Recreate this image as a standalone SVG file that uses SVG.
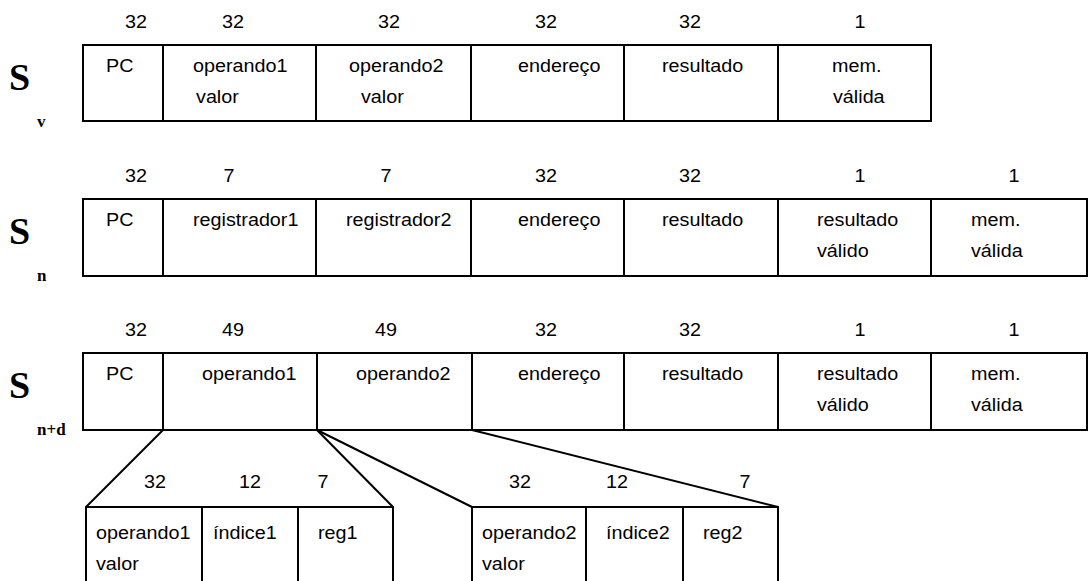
<svg xmlns="http://www.w3.org/2000/svg" width="1089" height="581" viewBox="0 0 1089 581">
  <style>
    .bg { fill: #ffffff; }
    .cell { fill: none; stroke: #000; stroke-width: 2; }
    .lnk { fill: none; stroke: #000; stroke-width: 2; }
    .t { font-family: "Liberation Sans", Arial, sans-serif; font-size: 17.5px; fill: #000;
         transform-box: fill-box; transform-origin: left center; transform: scaleX(1.13); }
    .w { font-family: "Liberation Sans", Arial, sans-serif; font-size: 17.5px; fill: #000; text-anchor: middle;
         transform-box: fill-box; transform-origin: center; transform: scaleX(1.13); }
    .s { font-family: "Liberation Serif", "Times New Roman", serif; font-weight: bold; font-size: 38px; fill: #000; }
    .sub { font-family: "Liberation Serif", "Times New Roman", serif; font-weight: bold; font-size: 17px; fill: #000; }
  </style>
  <rect class="bg" x="0" y="0" width="1089" height="581"/>

  <!-- state Sv -->
  <g id="state-sv">
    <text class="s" x="9" y="90">S</text>
    <text class="sub" x="37" y="127">v</text>
    <rect class="cell" x="83" y="45" width="848" height="76"/>
    <path class="cell" d="M163 45V121M316 45V121M471 45V121M624 45V121M778 45V121"/>
    <text class="w" x="136" y="28">32</text>
    <text class="w" x="233" y="28">32</text>
    <text class="w" x="389" y="28">32</text>
    <text class="w" x="546" y="28">32</text>
    <text class="w" x="690" y="28">32</text>
    <text class="w" x="860" y="28">1</text>
    <text class="t" x="106" y="72">PC</text>
    <text class="t" x="193" y="72">operando1</text>
    <text class="t" x="196" y="103">valor</text>
    <text class="t" x="349" y="72">operando2</text>
    <text class="t" x="361" y="103">valor</text>
    <text class="t" x="518" y="72">endereço</text>
    <text class="t" x="662" y="72">resultado</text>
    <text class="t" x="832" y="72">mem.</text>
    <text class="t" x="833" y="103">válida</text>
  </g>

  <!-- state Sn -->
  <g id="state-sn">
    <text class="s" x="9" y="244">S</text>
    <text class="sub" x="37" y="281">n</text>
    <rect class="cell" x="83" y="199" width="1004" height="77"/>
    <path class="cell" d="M163 199V276M316 199V276M471 199V276M624 199V276M778 199V276M931 199V276"/>
    <text class="w" x="136" y="182">32</text>
    <text class="w" x="229" y="182">7</text>
    <text class="w" x="386" y="182">7</text>
    <text class="w" x="546" y="182">32</text>
    <text class="w" x="690" y="182">32</text>
    <text class="w" x="860" y="182">1</text>
    <text class="w" x="1014" y="182">1</text>
    <text class="t" x="106" y="226">PC</text>
    <text class="t" x="193" y="226">registrador1</text>
    <text class="t" x="346" y="226">registrador2</text>
    <text class="t" x="518" y="226">endereço</text>
    <text class="t" x="662" y="226">resultado</text>
    <text class="t" x="817" y="226">resultado</text>
    <text class="t" x="817" y="257">válido</text>
    <text class="t" x="971" y="226">mem.</text>
    <text class="t" x="971" y="257">válida</text>
  </g>

  <!-- state Sn+d -->
  <g id="state-snd">
    <text class="s" x="9" y="398">S</text>
    <text class="sub" x="37" y="435">n+d</text>
    <rect class="cell" x="83" y="353" width="1004" height="77"/>
    <path class="cell" d="M163 353V430M317 353V430M472 353V430M624 353V430M778 353V430M931 353V430"/>
    <text class="w" x="136" y="336">32</text>
    <text class="w" x="233" y="336">49</text>
    <text class="w" x="386" y="336">49</text>
    <text class="w" x="546" y="336">32</text>
    <text class="w" x="690" y="336">32</text>
    <text class="w" x="860" y="336">1</text>
    <text class="w" x="1014" y="336">1</text>
    <text class="t" x="106" y="380">PC</text>
    <text class="t" x="202" y="380">operando1</text>
    <text class="t" x="356" y="380">operando2</text>
    <text class="t" x="518" y="380">endereço</text>
    <text class="t" x="662" y="380">resultado</text>
    <text class="t" x="817" y="380">resultado</text>
    <text class="t" x="817" y="411">válido</text>
    <text class="t" x="971" y="380">mem.</text>
    <text class="t" x="971" y="411">válida</text>
  </g>

  <!-- expansion of operando1 -->
  <g id="operando1-fields">
    <path class="cell" d="M86 590V507H393V590M202 507V590M298 507V590"/>
    <text class="w" x="155" y="488">32</text>
    <text class="w" x="250" y="488">12</text>
    <text class="w" x="323" y="488">7</text>
    <text class="t" x="96" y="539">operando1</text>
    <text class="t" x="96" y="570">valor</text>
    <text class="t" x="213" y="539">índice1</text>
    <text class="t" x="318" y="539">reg1</text>
  </g>

  <!-- expansion of operando2 -->
  <g id="operando2-fields">
    <path class="cell" d="M472 590V507H778V590M586 507V590M683 507V590"/>
    <text class="w" x="520" y="488">32</text>
    <text class="w" x="617" y="488">12</text>
    <text class="w" x="745" y="488">7</text>
    <text class="t" x="482" y="539">operando2</text>
    <text class="t" x="482" y="570">valor</text>
    <text class="t" x="606" y="539">índice2</text>
    <text class="t" x="703" y="539">reg2</text>
  </g>

  <!-- fan-out lines from Sn+d fields to their sub-fields -->
  <g id="connectors">
    <path class="lnk" d="M163 430L86 507"/>
    <path class="lnk" d="M317 430L393 507"/>
    <path class="lnk" d="M317 430L472 507"/>
    <path class="lnk" d="M472 430L778 507"/>
  </g>
</svg>
